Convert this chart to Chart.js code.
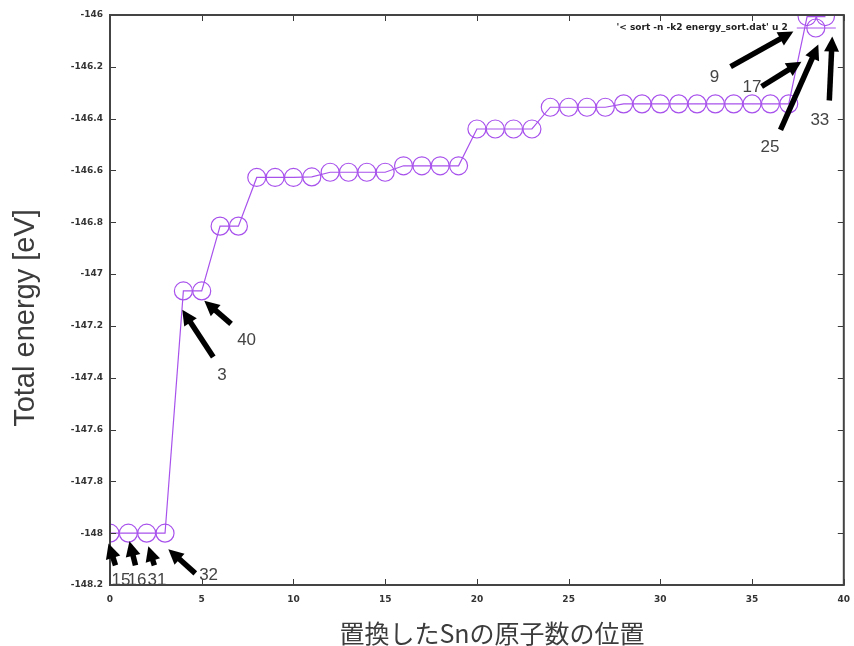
<!DOCTYPE html>
<html>
<head>
<meta charset="utf-8">
<script src="https://cdn.jsdelivr.net/npm/chart.js@4.4.1/dist/chart.umd.min.js"></script>
<style>
  html, body { margin: 0; padding: 0; background: #ffffff; }
  #wrap { width: 854px; height: 646px; }
</style>
</head>
<body>
<div id="wrap"><canvas id="c" width="854" height="646"></canvas></div>
<script>
// Substitution site index (sorted by energy) and total energy in eV
const siteIndex = [0, 1, 2, 3, 4, 5, 6, 7, 8, 9, 10, 11, 12, 13, 14, 15, 16, 17, 18, 19,
                   20, 21, 22, 23, 24, 25, 26, 27, 28, 29, 30, 31, 32, 33, 34, 35, 36, 37, 38, 39];
const totalEnergy = [-148.000, -148.000, -148.000, -148.000,
                     -147.065, -147.065,
                     -146.815, -146.815,
                     -146.627, -146.627, -146.627, -146.625,
                     -146.607, -146.607, -146.607, -146.607,
                     -146.582, -146.582, -146.582, -146.582,
                     -146.440, -146.440, -146.440, -146.440,
                     -146.356, -146.356, -146.356, -146.356,
                     -146.343, -146.343, -146.343, -146.343, -146.343,
                     -146.343, -146.343, -146.343, -146.343, -146.343,
                     -146.006, -146.006];

const xTicks = [0, 5, 10, 15, 20, 25, 30, 35, 40];
const yTicks = [-146, -146.2, -146.4, -146.6, -146.8, -147, -147.2, -147.4, -147.6, -147.8, -148, -148.2];

// Atom numbers pointed at by arrows: arrow tip, arrow tail and label anchor in data units
const atomLabels = ['15', '16', '31', '32', '3', '40', '9', '17', '25', '33'];
const arrowTips = [[-0.08, -148.040], [1.06, -148.031], [2.09, -148.050], [3.18, -148.062],
                   [3.94, -147.138], [5.14, -147.103],
                   [37.25, -146.064], [37.69, -146.180], [38.61, -146.114], [39.37, -146.083]];
const arrowTails = [[0.30, -148.124], [1.39, -148.124], [2.42, -148.124], [4.65, -148.155],
                    [5.63, -147.320], [6.60, -147.192],
                    [33.83, -146.199], [35.52, -146.276], [36.55, -146.443], [39.21, -146.330]];
const labelAnchors = [[0.08, -148.200], [0.95, -148.200], [2.04, -148.200], [4.86, -148.181],
                      [5.84, -147.408], [6.93, -147.273],
                      [32.69, -146.257], [34.48, -146.296], [35.46, -146.528], [38.18, -146.423]];

const seriesName = "'< sort -n -k2 energy_sort.dat' u 2";
const xTitle = '置換したSnの原子数の位置';
const yTitle = 'Total energy [eV]';

const PURPLE = 'rgb(168, 82, 236)';

const points = siteIndex.map((x, i) => ({ x: x, y: totalEnergy[i] }));

// Frame with inward tick marks on all four sides
const framePlugin = {
  id: 'frame',
  afterDatasetsDraw(chart) {
    const { ctx, chartArea: a, scales: { x, y } } = chart;
    ctx.save();
    ctx.strokeStyle = '#3a3a3a';
    ctx.lineWidth = 1;
    xTicks.forEach(v => {
      const px = Math.round(x.getPixelForValue(v)) + 0.5;
      ctx.beginPath();
      ctx.moveTo(px, a.bottom); ctx.lineTo(px, a.bottom - 6);
      ctx.moveTo(px, a.top); ctx.lineTo(px, a.top + 6);
      ctx.stroke();
    });
    yTicks.forEach(v => {
      const py = Math.round(y.getPixelForValue(v)) + 0.5;
      ctx.beginPath();
      ctx.moveTo(a.left, py); ctx.lineTo(a.left + 6, py);
      ctx.moveTo(a.right, py); ctx.lineTo(a.right - 6, py);
      ctx.stroke();
    });
    ctx.strokeStyle = '#444444';
    ctx.lineWidth = 2;
    ctx.strokeRect(a.left, a.top, a.right - a.left, a.bottom - a.top);
    ctx.restore();
  }
};

// Key entry in the upper right corner: label, sample line and marker
const keyPlugin = {
  id: 'key',
  afterDatasetsDraw(chart) {
    const { ctx, chartArea: a } = chart;
    ctx.save();
    const ky = a.top + 13;
    ctx.font = 'bold 9px "DejaVu Sans"';
    ctx.fillStyle = '#222222';
    ctx.textAlign = 'right';
    ctx.textBaseline = 'middle';
    ctx.fillText(seriesName, a.right - 56, ky);
    ctx.strokeStyle = PURPLE;
    ctx.lineWidth = 1;
    ctx.beginPath();
    ctx.moveTo(a.right - 47, ky); ctx.lineTo(a.right - 8, ky);
    ctx.stroke();
    ctx.lineWidth = 1.2;
    ctx.beginPath();
    ctx.arc(a.right - 28, ky, 9, 0, Math.PI * 2);
    ctx.stroke();
    ctx.restore();
  }
};

// Arrows with atom numbers
const arrowPlugin = {
  id: 'arrows',
  afterDatasetsDraw(chart) {
    const { ctx, scales: { x, y } } = chart;
    ctx.save();
    ctx.fillStyle = '#000000';
    ctx.strokeStyle = '#000000';
    atomLabels.forEach((txt, i) => {
      const tx = x.getPixelForValue(arrowTips[i][0]);
      const ty = y.getPixelForValue(arrowTips[i][1]);
      const sx = x.getPixelForValue(arrowTails[i][0]);
      const sy = y.getPixelForValue(arrowTails[i][1]);
      const ang = Math.atan2(ty - sy, tx - sx);
      const headLen = 15, headHalf = 7.5;
      const bx = tx - headLen * Math.cos(ang);
      const by = ty - headLen * Math.sin(ang);
      ctx.lineWidth = 5.5;
      ctx.lineCap = 'butt';
      ctx.beginPath();
      ctx.moveTo(sx, sy); ctx.lineTo(bx + Math.cos(ang), by + Math.sin(ang));
      ctx.stroke();
      ctx.beginPath();
      ctx.moveTo(tx, ty);
      ctx.lineTo(bx + headHalf * Math.sin(ang), by - headHalf * Math.cos(ang));
      ctx.lineTo(bx - headHalf * Math.sin(ang), by + headHalf * Math.cos(ang));
      ctx.closePath();
      ctx.fill();
    });
    ctx.font = '17px "Liberation Sans"';
    ctx.fillStyle = '#444444';
    ctx.textAlign = 'left';
    ctx.textBaseline = 'alphabetic';
    atomLabels.forEach((txt, i) => {
      ctx.fillText(txt, x.getPixelForValue(labelAnchors[i][0]), y.getPixelForValue(labelAnchors[i][1]));
    });
    ctx.restore();
  }
};

// Axis titles
const titlePlugin = {
  id: 'axisTitles',
  afterDraw(chart) {
    const { ctx } = chart;
    ctx.save();
    ctx.fillStyle = '#3c3c3c';
    ctx.textAlign = 'center';
    ctx.textBaseline = 'middle';
    ctx.font = '25px "Noto Sans CJK JP"';
    ctx.fillText(xTitle, 492, 633);
    ctx.translate(26, 318);
    ctx.rotate(-Math.PI / 2);
    ctx.font = '29px "Liberation Sans"';
    ctx.fillText(yTitle, 0, 0);
    ctx.restore();
  }
};

new Chart(document.getElementById('c'), {
  type: 'scatter',
  data: {
    datasets: [{
      label: seriesName,
      data: points,
      showLine: true,
      borderColor: PURPLE,
      borderWidth: 1.2,
      pointStyle: 'circle',
      pointRadius: 9,
      pointBorderWidth: 1.2,
      pointBorderColor: PURPLE,
      pointBackgroundColor: 'rgba(0,0,0,0)',
      tension: 0
    }]
  },
  options: {
    responsive: false,
    animation: false,
    events: [],
    layout: { padding: { top: 15, right: 7, left: 0, bottom: 0 } },
    plugins: { legend: { display: false }, tooltip: { enabled: false } },
    scales: {
      x: {
        type: 'linear',
        min: 0, max: 40,
        afterFit(s) { s.height = 61; s.paddingLeft = 0; s.paddingRight = 0; },
        afterBuildTicks(s) { s.ticks = xTicks.map(v => ({ value: v })); },
        grid: { display: false, drawTicks: false },
        border: { display: false },
        ticks: {
          font: { family: 'DejaVu Sans', size: 9, weight: 'bold' },
          color: '#333333',
          padding: 9,
          maxRotation: 0,
          callback: v => String(v)
        }
      },
      y: {
        type: 'linear',
        min: -148.2, max: -146,
        afterFit(s) { s.width = 110; s.paddingTop = 0; s.paddingBottom = 0; },
        afterBuildTicks(s) { s.ticks = yTicks.map(v => ({ value: v })); },
        grid: { display: false, drawTicks: false },
        border: { display: false },
        ticks: {
          font: { family: 'DejaVu Sans', size: 9, weight: 'bold' },
          color: '#333333',
          padding: 7,
          callback: v => String(Math.round(v * 10) / 10)
        }
      }
    }
  },
  plugins: [framePlugin, keyPlugin, arrowPlugin, titlePlugin]
});
</script>
</body>
</html>
